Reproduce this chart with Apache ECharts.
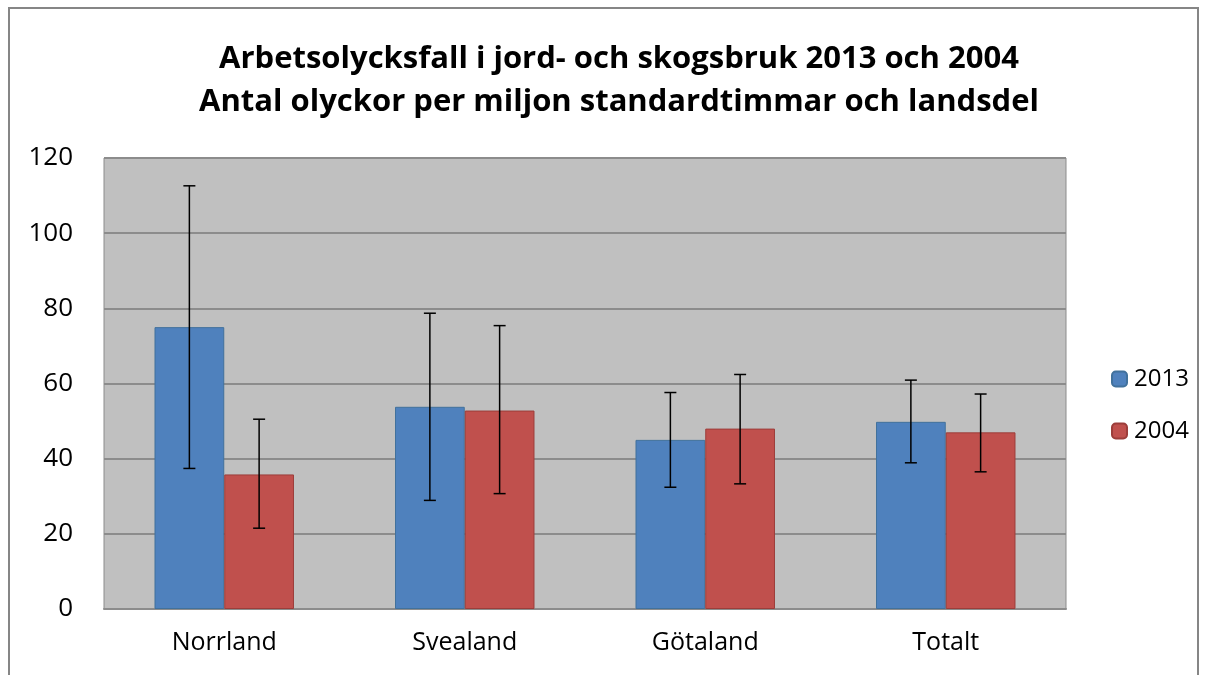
<!DOCTYPE html>
<html>
<head>
<meta charset="utf-8">
<script src="https://cdn.jsdelivr.net/npm/echarts@6/dist/echarts.min.js"></script>
<style>
  html, body { margin: 0; padding: 0; background: #fff; }
  #chart { width: 1207px; height: 675px; }
</style>
</head>
<body>
<div id="chart"></div>
<script>
const categories = ["Norrland", "Svealand", "Götaland", "Totalt"];
const seriesNames = ["2013", "2004"];

const values2013 = [75.0, 53.8, 45.0, 49.8];
const low2013 = [37.4, 28.9, 32.4, 38.9];
const high2013 = [112.6, 78.7, 57.6, 60.9];

const values2004 = [35.8, 52.8, 48.0, 47.0];
const low2004 = [21.5, 30.7, 33.3, 36.5];
const high2004 = [50.5, 75.4, 62.4, 57.2];

const colors = ["#4f81bd", "#c0504d"];
const borders = ["#41719c", "#9c3d3a"];
const gapRatio = 0.42;

const font = "'Open Sans', 'Liberation Sans', sans-serif";

// error bar rows: [category index, low, high]
function errRows(low, high) {
  return low.map((l, i) => [i, l, high[i]]);
}

function errorBars(seriesIdx) {
  return function (params, api) {
    const i = api.value(0);
    const top = api.coord([i, api.value(2)]);
    const bot = api.coord([i, api.value(1)]);
    const band = api.size([1, 0])[0];
    const barW = band * (1 - gapRatio) / 2;
    const x = top[0] + (seriesIdx === 0 ? -barW / 2 : barW / 2);
    const cap = 6;
    const style = { stroke: "#000", lineWidth: 1.5 };
    return {
      type: "group",
      children: [
        { type: "line", shape: { x1: x, y1: top[1], x2: x, y2: bot[1] }, style },
        { type: "line", shape: { x1: x - cap, y1: top[1], x2: x + cap, y2: top[1] }, style },
        { type: "line", shape: { x1: x - cap, y1: bot[1], x2: x + cap, y2: bot[1] }, style }
      ]
    };
  };
}

const chart = echarts.init(document.getElementById("chart"));
chart.setOption({
  animation: false,
  textStyle: { fontFamily: font },
  title: {
    text: "Arbetsolycksfall i jord- och skogsbruk 2013 och 2004\nAntal olyckor per miljon standardtimmar och landsdel",
    left: 614,
    textAlign: "center",
    top: 33,
    textStyle: { fontFamily: font, fontSize: 31, fontWeight: "bold", color: "#000", lineHeight: 43 }
  },
  graphic: [{
    type: "rect",
    shape: { x: 9, y: 8, width: 1189, height: 700 },
    style: { fill: "none", stroke: "#868686", lineWidth: 2 },
    silent: true
  }],
  legend: {
    data: seriesNames,
    orient: "vertical",
    left: 1106,
    top: 362,
    itemWidth: 15,
    itemHeight: 15,
    itemGap: 28,
    textStyle: { fontFamily: font, fontSize: 24, color: "#000", padding: [0, 0, 0, 2] }
  },
  grid: {
    left: 104, right: 141, top: 158, bottom: 66,
    show: true, backgroundColor: "#c0c0c0", borderColor: "#8c8c8c", borderWidth: 1
  },
  xAxis: {
    type: "category",
    data: categories,
    axisLine: { lineStyle: { color: "#8c8c8c", width: 2 } },
    axisTick: { show: false },
    axisLabel: { fontFamily: font, fontSize: 25, color: "#000", margin: 21 }
  },
  yAxis: {
    type: "value",
    min: 0, max: 120, interval: 20,
    axisLine: { show: false },
    axisTick: { show: false },
    splitLine: { lineStyle: { color: "#8c8c8c", width: 2 } },
    axisLabel: { fontFamily: font, fontSize: 26, color: "#000", margin: 31 }
  },
  series: [
    {
      name: "2013", type: "bar", data: values2013,
      barGap: "0%", barCategoryGap: (gapRatio * 100) + "%",
      itemStyle: { color: colors[0], borderColor: borders[0], borderWidth: 1 }
    },
    {
      name: "2004", type: "bar", data: values2004,
      barGap: "0%", barCategoryGap: (gapRatio * 100) + "%",
      itemStyle: { color: colors[1], borderColor: borders[1], borderWidth: 1 }
    },
    {
      type: "custom", renderItem: errorBars(0), data: errRows(low2013, high2013),
      encode: { x: 0, y: [1, 2] }, z: 10, silent: true
    },
    {
      type: "custom", renderItem: errorBars(1), data: errRows(low2004, high2004),
      encode: { x: 0, y: [1, 2] }, z: 10, silent: true
    }
  ]
});
</script>
</body>
</html>
